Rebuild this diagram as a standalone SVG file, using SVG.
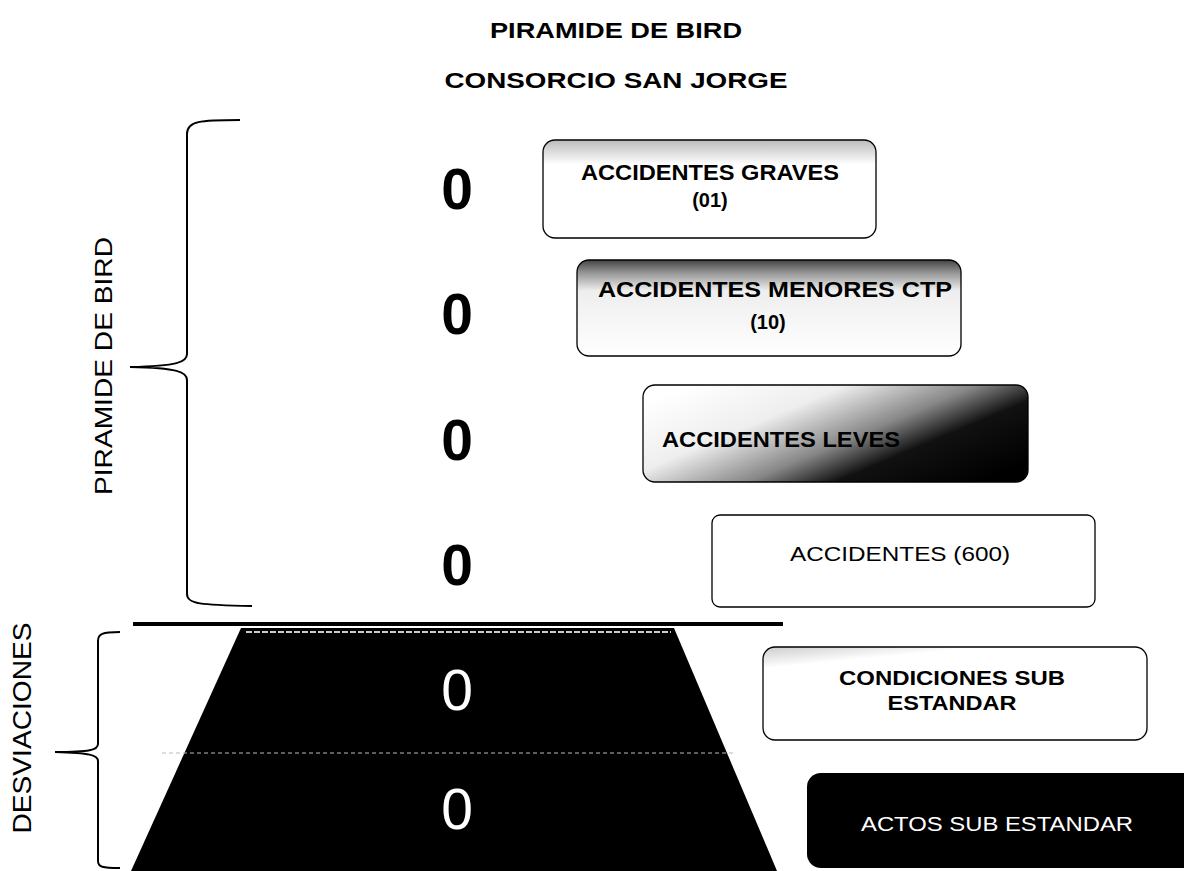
<svg xmlns="http://www.w3.org/2000/svg" width="1184" height="871" viewBox="0 0 1184 871">
<defs>
<style>
.t{font-family:"Liberation Sans",Arial,sans-serif;fill:#000}
.b{font-weight:bold}
.z{font-family:"Liberation Sans",Arial,sans-serif;font-size:57px;text-anchor:middle}
.box{stroke:#000;stroke-width:1.3}
.br{fill:none;stroke:#000;stroke-width:2}
</style>
<linearGradient id="g1" x1="0" y1="0" x2="0" y2="1">
<stop offset="0" stop-color="#bbb"/><stop offset="0.25" stop-color="#fff"/><stop offset="1" stop-color="#fff"/>
</linearGradient>
<linearGradient id="g2" x1="0" y1="0" x2="0" y2="1">
<stop offset="0" stop-color="#444"/><stop offset="0.14" stop-color="#999"/><stop offset="0.32" stop-color="#eee"/><stop offset="1" stop-color="#fff"/>
</linearGradient>
<linearGradient id="g3" x1="0" y1="0.2" x2="1" y2="0.8">
<stop offset="0" stop-color="#fff"/><stop offset="0.3" stop-color="#eee"/><stop offset="0.55" stop-color="#888"/><stop offset="0.72" stop-color="#111"/><stop offset="1" stop-color="#000"/>
</linearGradient>
<linearGradient id="g5" x1="0" y1="0" x2="0.4" y2="1">
<stop offset="0" stop-color="#ccc"/><stop offset="0.2" stop-color="#fff"/><stop offset="1" stop-color="#fff"/>
</linearGradient>
</defs>
<rect width="1184" height="871" fill="#fff"/>

<g id="title">
<text class="t b" x="616" y="38" font-size="22" text-anchor="middle" textLength="252" lengthAdjust="spacingAndGlyphs">PIRAMIDE DE BIRD</text>
<text class="t b" x="616" y="88" font-size="22" text-anchor="middle" textLength="343" lengthAdjust="spacingAndGlyphs">CONSORCIO SAN JORGE</text>
</g>

<g id="connectors">
<path class="br" d="M240,120 C200,120 187,121 187,134 L187,354 C187,362 178,366 130,367 C178,368 187,372 187,380 L187,594 C187,604 200,605 252,606"/>
<path class="br" d="M120,632 C102,632 98,634 98,641 L98,744 C98,750 90,752 55,752 C90,753 98,755 98,761 L98,861 C98,867 102,868 120,868"/>
<line x1="133" y1="624" x2="783" y2="624" stroke="#000" stroke-width="4"/>
</g>

<g id="label-piramide">
<text class="t" transform="translate(112,366) rotate(-90)" font-size="23" text-anchor="middle" textLength="258" lengthAdjust="spacingAndGlyphs">PIRAMIDE DE BIRD</text>
</g>
<g id="label-desviaciones">
<text class="t" transform="translate(31,728) rotate(-90)" font-size="25" text-anchor="middle" textLength="211" lengthAdjust="spacingAndGlyphs">DESVIACIONES</text>
</g>

<g id="pyramid">
<polygon points="241,628 674,628 777,871 131,871" fill="#000"/>
<line x1="246" y1="632" x2="671" y2="632" stroke="#ccc" stroke-width="2" stroke-dasharray="6 2"/>
<line x1="162" y1="753" x2="734" y2="753" stroke="#bbb" stroke-width="1" stroke-dasharray="4 3"/>
</g>

<g id="zeros">
<text class="z b" x="457" y="209">0</text>
<text class="z b" x="457" y="334">0</text>
<text class="z b" x="457" y="460">0</text>
<text class="z b" x="457" y="585">0</text>
<text class="z" x="457" y="710" fill="#fff">0</text>
<text class="z" x="457" y="829" fill="#fff">0</text>
</g>

<g id="box-graves">
<rect class="box" x="543" y="140" width="333" height="98" rx="12" fill="url(#g1)"/>
<text class="t b" x="710" y="180" font-size="22" text-anchor="middle" textLength="258" lengthAdjust="spacingAndGlyphs">ACCIDENTES GRAVES</text>
<text class="t b" x="710" y="207" font-size="20" text-anchor="middle">(01)</text>
</g>

<g id="box-menores">
<rect class="box" x="577" y="260" width="384" height="96" rx="12" fill="url(#g2)"/>
<text class="t b" x="775" y="297" font-size="22" text-anchor="middle" textLength="354" lengthAdjust="spacingAndGlyphs">ACCIDENTES MENORES CTP</text>
<text class="t b" x="768" y="329" font-size="20" text-anchor="middle">(10)</text>
</g>

<g id="box-leves">
<rect class="box" x="643" y="385" width="385" height="97" rx="12" fill="url(#g3)"/>
<text class="t b" x="662" y="447" font-size="22" textLength="238" lengthAdjust="spacingAndGlyphs">ACCIDENTES LEVES</text>
</g>

<g id="box-accidentes">
<rect class="box" x="712" y="515" width="383" height="92" rx="8" fill="#fff"/>
<text class="t" x="900" y="561" font-size="21" text-anchor="middle" textLength="220" lengthAdjust="spacingAndGlyphs">ACCIDENTES (600)</text>
</g>

<g id="box-condiciones">
<rect class="box" x="763" y="647" width="384" height="93" rx="12" fill="url(#g5)"/>
<text class="t b" x="952" y="685" font-size="21" text-anchor="middle" textLength="226" lengthAdjust="spacingAndGlyphs">CONDICIONES SUB</text>
<text class="t b" x="952" y="710" font-size="21" text-anchor="middle" textLength="129" lengthAdjust="spacingAndGlyphs">ESTANDAR</text>
</g>

<g id="box-actos">
<rect x="807" y="773" width="390" height="95" rx="14" fill="#000"/>
<text class="t" x="997" y="831" font-size="21" text-anchor="middle" textLength="272" lengthAdjust="spacingAndGlyphs" style="fill:#fff">ACTOS SUB ESTANDAR</text>
</g>
</svg>
